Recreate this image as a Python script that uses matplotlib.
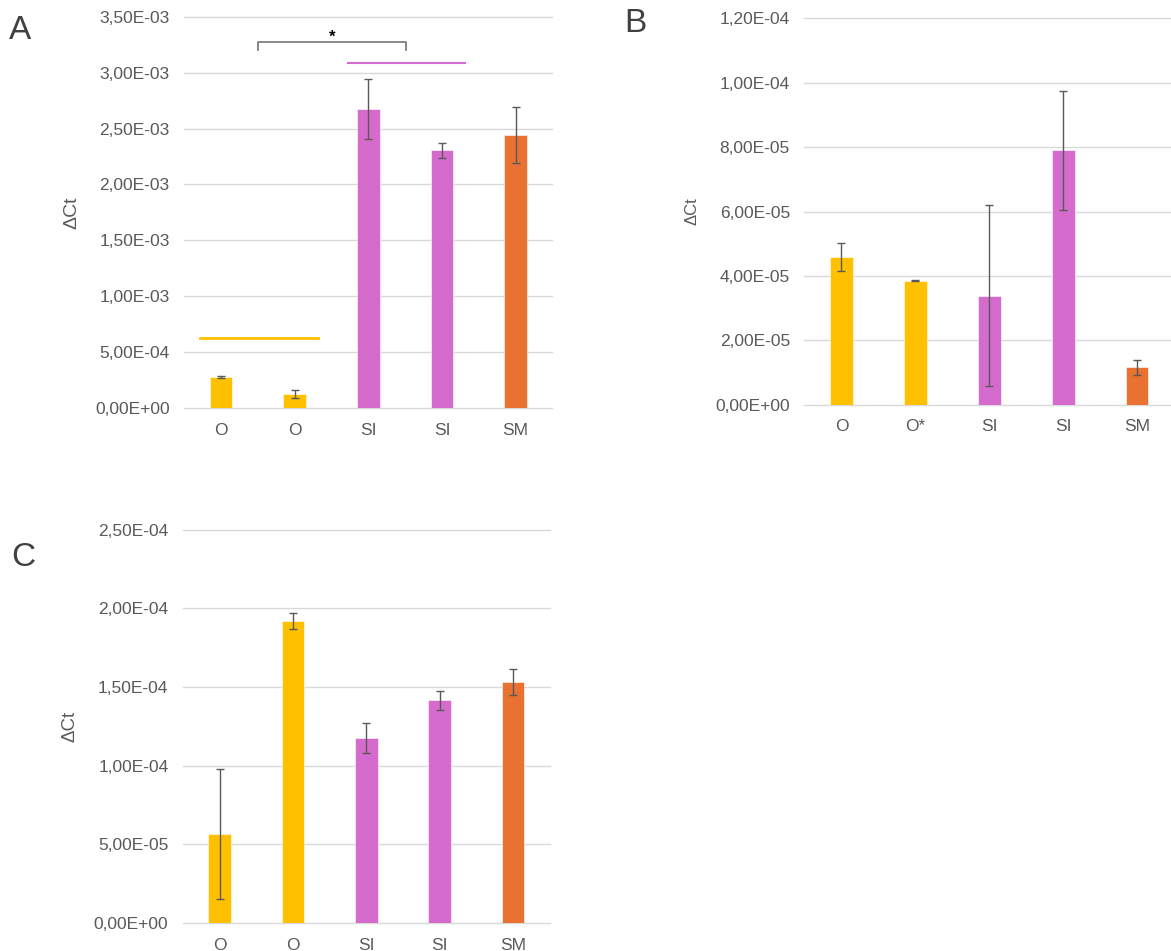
import matplotlib.pyplot as plt
from matplotlib.ticker import FuncFormatter, MultipleLocator

plt.rcParams['font.family'] = ['Liberation Sans', 'DejaVu Sans']

#----------------------------------------------------#
# datele
yellow = '#FFC000'
pink = '#D46BCD'
orange = '#E97132'

labels_A = ['O', 'O', 'SI', 'SI', 'SM']
vals_A = [2.77e-4, 1.31e-4, 2.671e-3, 2.305e-3, 2.442e-3]
err_A = [1.0e-5, 3.6e-5, 2.68e-4, 6.7e-5, 2.53e-4]
colors_A = [yellow, yellow, pink, pink, orange]

labels_B = ['O', 'O*', 'SI', 'SI', 'SM']
vals_B = [4.59e-5, 3.855e-5, 3.39e-5, 7.90e-5, 1.158e-5]
err_B = [4.4e-6, 2e-7, 2.82e-5, 1.85e-5, 2.2e-6]
colors_B = [yellow, yellow, pink, pink, orange]

labels_C = ['O', 'O', 'SI', 'SI', 'SM']
vals_C = [5.64e-5, 1.919e-4, 1.178e-4, 1.415e-4, 1.53e-4]
err_C = [4.13e-5, 5.3e-6, 9.6e-6, 5.8e-6, 8.2e-6]
colors_C = [yellow, yellow, pink, pink, orange]

# adnotari panel A (coordonate in unitatile datelor)
yellow_line = ([-0.29, 1.32], 6.31e-4)
pink_line = ([1.73, 3.31], 3.086e-3)
bracket = ([0.50, 2.51], 3.277e-3, 3.203e-3)
star = (1.51, 3.25e-3)

#----------------------------------------------------#
def fmt(v, pos):
    return '{:.2E}'.format(v).replace('.', ',')


def bar_panel(ax, labels, vals, errs, colors, ymax, step, xmax=4.5, lab_size=14):
    x = list(range(len(labels)))
    ax.bar(x, vals, width=0.31, color=colors, edgecolor='white',
           linewidth=0.4, zorder=2)
    ax.errorbar(x, vals, yerr=errs, fmt='none', ecolor='#595959',
                elinewidth=1, capsize=3, capthick=1, zorder=3)
    ax.set_xlim(-0.5, xmax)
    ax.set_ylim(0, ymax)
    ax.yaxis.set_major_locator(MultipleLocator(step))
    ax.yaxis.set_major_formatter(FuncFormatter(fmt))
    ax.set_xticks(x)
    ax.set_xticklabels(labels)
    ax.grid(axis='y', color='#D9D9D9', linewidth=1, zorder=0)
    ax.set_axisbelow(True)
    for s in ax.spines.values():
        s.set_visible(False)
    ax.tick_params(axis='y', length=0, pad=10.5, labelsize=12.5, labelcolor='#595959')
    ax.tick_params(axis='x', length=0, pad=10.5, labelsize=12.5, labelcolor='#595959')
    ax.set_ylabel('ΔCt', fontsize=lab_size, color='#595959')
    for gl in ax.get_ygridlines():
        gl.set_clip_on(False)


fig = plt.figure(figsize=(11.71, 9.51), dpi=100)

axA = fig.add_axes([0.1573, 0.5707, 0.3145, 0.4118])
bar_panel(axA, labels_A, vals_A, err_A, colors_A, 3.5e-3, 5e-4)
axA.yaxis.set_label_coords(-0.283, 0.5)
axA.plot(yellow_line[0], [yellow_line[1]] * 2, color=yellow, lw=2, zorder=3)
axA.plot(pink_line[0], [pink_line[1]] * 2, color=pink, lw=1.5, zorder=3)
bx = bracket[0]
axA.plot([bx[0], bx[0], bx[1], bx[1]],
         [bracket[2], bracket[1], bracket[1], bracket[2]],
         color='#7F7F7F', lw=1.3, zorder=3)
axA.text(star[0], star[1], '*', ha='center', va='bottom', fontsize=12,
         fontweight='bold', color='black')

axB = fig.add_axes([0.6870, 0.5744, 0.3155, 0.4063])
bar_panel(axB, labels_B, vals_B, err_B, colors_B, 1.2e-4, 2e-5, lab_size=12)
axB.yaxis.set_label_coords(-0.283, 0.5)

axC = fig.add_axes([0.1563, 0.02944, 0.3131, 0.4136])
bar_panel(axC, labels_C, vals_C, err_C, colors_C, 2.5e-4, 5e-5, lab_size=13.5)
axC.yaxis.set_label_coords(-0.286, 0.5)

# literele panourilor
for lx, ly, t in [(9, 39, 'A'), (624, 32, 'B'), (11, 566, 'C')]:
    fig.text(lx / 1171, 1 - ly / 951, t, fontsize=24, color='#404040',
             ha='left', va='baseline')

fig.savefig('out.png', dpi=100)
